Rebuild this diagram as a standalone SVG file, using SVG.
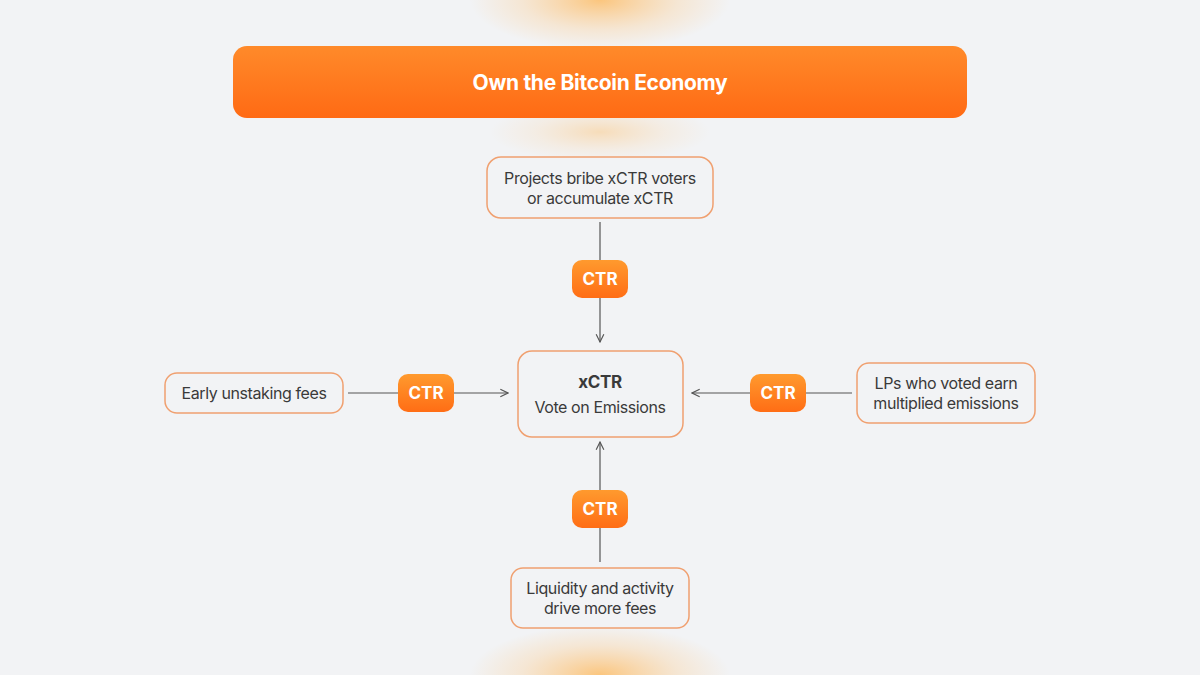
<svg xmlns="http://www.w3.org/2000/svg" width="1200" height="675" viewBox="0 0 1200 675">
<defs>
<linearGradient id="hdr" x1="0" y1="0" x2="0" y2="1"><stop offset="0" stop-color="#ff8a2a"/><stop offset="1" stop-color="#ff6a14"/></linearGradient>
<linearGradient id="pill" x1="0" y1="0" x2="0" y2="1"><stop offset="0" stop-color="#ff9a2e"/><stop offset="1" stop-color="#ff6d15"/></linearGradient>
<radialGradient id="glow" cx="0.5" cy="0.5" r="0.5"><stop offset="0" stop-color="#ffb24a" stop-opacity="0.7"/><stop offset="0.6" stop-color="#ffc070" stop-opacity="0.25"/><stop offset="1" stop-color="#ffc070" stop-opacity="0"/></radialGradient>
<marker id="arr" viewBox="0 0 10 10" refX="9" refY="5" markerWidth="8" markerHeight="8" orient="auto"><path d="M1 1 L9 5 L1 9" fill="none" stroke="#555" stroke-width="1.2"/></marker>
<style>
.box{fill:#f2f3f5;stroke:#f0a070;stroke-width:1.5}
.t{font-family:Inter,"Liberation Sans",sans-serif;font-size:16px;fill:#3a3a3a;text-anchor:middle;letter-spacing:-0.4px}
.p{font-family:Inter,"Liberation Sans",sans-serif;font-size:17px;font-weight:700;fill:#fff;text-anchor:middle}
.c{stroke:#555;stroke-width:1.2;fill:none}
</style>
</defs>
<rect width="1200" height="675" fill="#f2f3f5"/>
<ellipse cx="600" cy="0" rx="130" ry="50" fill="url(#glow)"/>
<ellipse cx="600" cy="132" rx="110" ry="30" fill="url(#glow)" opacity="0.5"/>
<ellipse cx="600" cy="675" rx="130" ry="50" fill="url(#glow)"/>
<g id="header"><rect x="233" y="46" width="734" height="72" rx="14" fill="url(#hdr)"/><text x="600" y="90" class="p" style="font-size:21px;letter-spacing:-0.3px">Own the Bitcoin Economy</text></g>
<g id="connectors">
<line x1="600" y1="222" x2="600" y2="342" class="c" marker-end="url(#arr)"/>
<line x1="600" y1="562" x2="600" y2="442" class="c" marker-end="url(#arr)"/>
<line x1="348" y1="393" x2="508" y2="393" class="c" marker-end="url(#arr)"/>
<line x1="852" y1="393" x2="692" y2="393" class="c" marker-end="url(#arr)"/>
</g>
<g id="top"><rect x="487" y="157" width="226" height="61" rx="14" class="box"/><text x="600" y="184" class="t">Projects bribe xCTR voters</text><text x="600" y="204" class="t">or accumulate xCTR</text></g>
<g id="center"><rect x="518" y="351" width="165" height="86" rx="14" class="box"/><text x="600" y="388" class="t" style="font-weight:700;font-size:17px">xCTR</text><text x="600" y="413" class="t">Vote on Emissions</text></g>
<g id="left"><rect x="165" y="373" width="178" height="40" rx="12" class="box"/><text x="254" y="399" class="t">Early unstaking fees</text></g>
<g id="right"><rect x="857" y="363" width="178" height="60" rx="12" class="box"/><text x="946" y="389" class="t">LPs who voted earn</text><text x="946" y="409" class="t">multiplied emissions</text></g>
<g id="bottom"><rect x="511" y="568" width="178" height="60" rx="12" class="box"/><text x="600" y="594" class="t">Liquidity and activity</text><text x="600" y="614" class="t">drive more fees</text></g>
<g id="pill-top"><rect x="572" y="260" width="56" height="38" rx="10" fill="url(#pill)"/><text x="600" y="285" class="p">CTR</text></g>
<g id="pill-bottom"><rect x="572" y="490" width="56" height="38" rx="10" fill="url(#pill)"/><text x="600" y="515" class="p">CTR</text></g>
<g id="pill-left"><rect x="398" y="374" width="56" height="38" rx="10" fill="url(#pill)"/><text x="426" y="399" class="p">CTR</text></g>
<g id="pill-right"><rect x="750" y="374" width="56" height="38" rx="10" fill="url(#pill)"/><text x="778" y="399" class="p">CTR</text></g>
</svg>
